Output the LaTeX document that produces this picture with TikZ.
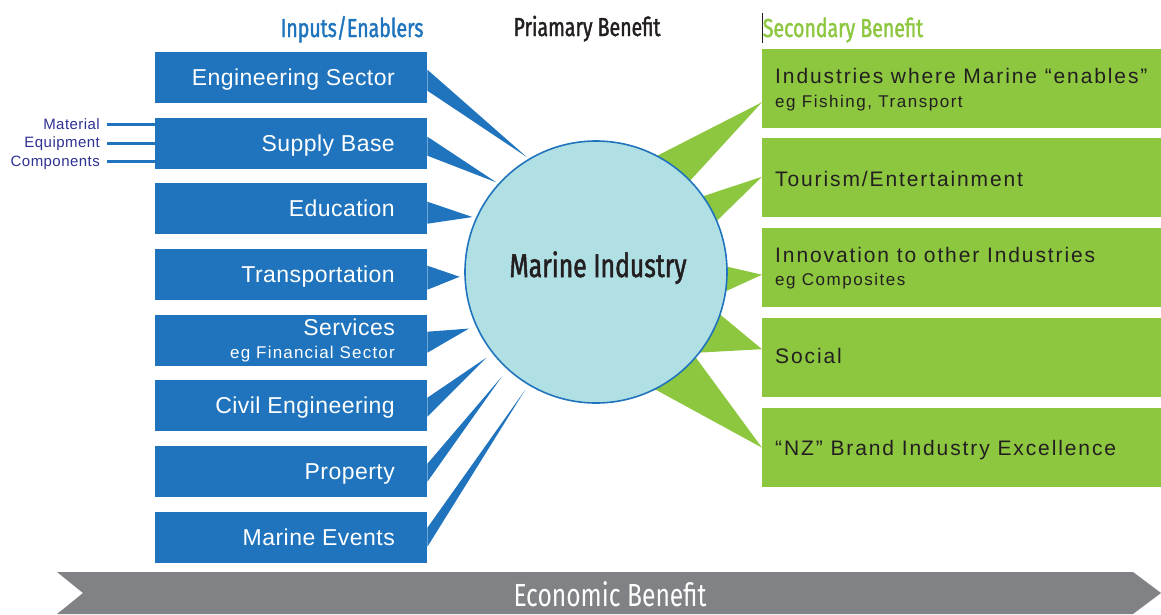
\documentclass[tikz,border=0pt]{standalone}
\usepackage{fontspec}
\setmainfont{Liberation Sans}
\newfontfamily\condfont[FakeStretch=0.75, FakeBold=1.5]{Fira Sans}
\newfontfamily\condlight[FakeStretch=0.77]{Fira Sans}
\newfontfamily\bluefont[LetterSpace=2]{Liberation Sans}
\newfontfamily\bluesub[LetterSpace=7]{Liberation Sans}
\newfontfamily\greenfont[LetterSpace=9]{Liberation Sans}
\newfontfamily\smallfont[LetterSpace=3]{Liberation Sans}
\usetikzlibrary{calc}
\definecolor{mblue}{RGB}{31,116,189}
\definecolor{mgreen}{RGB}{141,198,63}
\definecolor{mcirc}{RGB}{176,224,228}
\definecolor{mgray}{RGB}{128,130,133}
\definecolor{mnavy}{RGB}{46,49,146}
\definecolor{mtext}{RGB}{35,31,32}
\begin{document}
\begin{tikzpicture}[x=1pt,y=-1pt,
  inbox/.style={fill=mblue, minimum width=272pt, minimum height=51pt, inner sep=0pt, anchor=north west},
  outbox/.style={fill=mgreen, minimum width=400pt, minimum height=79pt, inner sep=0pt, anchor=north west},
  btext/.style={text=white, inner sep=0pt, anchor=base east, font=\bluefont\fontsize{23}{27}\selectfont},
  bsub/.style={text=white, inner sep=0pt, anchor=base east, font=\bluesub\fontsize{17}{20}\selectfont},
  gtext/.style={text=mtext, inner sep=0pt, anchor=base west, font=\greenfont\fontsize{21}{25}\selectfont},
  gsub/.style={text=mtext, inner sep=0pt, anchor=base west, font=\greenfont\fontsize{17}{20}\selectfont},
  head/.style={inner sep=0pt, anchor=base, font=\condfont\fontsize{26}{30}\selectfont},
  slabel/.style={text=mnavy, inner sep=0pt, anchor=base east, font=\smallfont\fontsize{15}{18}\selectfont},
  bwedge/.style={fill=mblue},
  gwedge/.style={fill=mgreen},
  feed/.style={draw=mblue, line width=3pt}
]
\useasboundingbox (0,0) rectangle (1161,614);

% headers
\node[head, text=mblue] (h1) at (352,37) {Inputs/Enablers};
\node[head, text=mtext] (h2) at (587,36) {Priamary Benefit};
\node[head, text=mgreen] (h3) at (843,37) {Secondary Benefit};
\coordinate (cur1) at (762,13);
\coordinate (cur2) at (762,43);
\draw[mtext, line width=0.8pt] (cur1) -- (cur2);

% input boxes
\node[inbox] (b1) at (155,52) {};
\node[inbox] (b2) at (155,118) {};
\node[inbox] (b3) at (155,183) {};
\node[inbox] (b4) at (155,249) {};
\node[inbox] (b5) at (155,315) {};
\node[inbox] (b6) at (155,380) {};
\node[inbox] (b7) at (155,446) {};
\node[inbox] (b8) at (155,512) {};

\node[btext] (t1) at (395,85.5) {Engineering Sector};
\node[btext] (t2) at (395,151.5) {Supply Base};
\node[btext] (t3) at (395,216.5) {Education};
\node[btext] (t4) at (395,282.5) {Transportation};
\node[btext] (t5) at (395,335) {Services};
\node[bsub] (t5b) at (395,358) {eg Financial Sector};
\node[btext] (t6) at (395,413.5) {Civil Engineering};
\node[btext] (t7) at (395,479.5) {Property};
\node[btext] (t8) at (395,545.5) {Marine Events};

% supply base feeds
\node[slabel] (s1) at (100,129) {Material};
\node[slabel] (s2) at (100,147) {Equipment};
\node[slabel] (s3) at (100,166) {Components};
\coordinate (f1) at (107,124);
\coordinate (f2) at (107,143);
\coordinate (f3) at (107,161.5);
\draw[feed] (f1) -- (f1 -| b2.west);
\draw[feed] (f2) -- (f2 -| b2.west);
\draw[feed] (f3) -- (f3 -| b2.west);

% output boxes
\node[outbox] (g1) at (762,49) {};
\node[outbox] (g2) at (762,138) {};
\node[outbox] (g3) at (762,228) {};
\node[outbox] (g4) at (762,318) {};
\node[outbox] (g5) at (762,408) {};

\node[gtext] (u1) at (775,83) {Industries where Marine “enables”};
\node[gsub] (u1b) at (775,107) {eg Fishing, Transport};
\node[gtext] (u2) at (775,186) {Tourism/Entertainment};
\node[gtext] (u3) at (775,262) {Innovation to other Industries};
\node[gsub] (u3b) at (775,285) {eg Composites};
\node[gtext] (u4) at (775,363) {Social};
\node[gtext] (u5) at (775,455) {“NZ” Brand Industry Excellence};

% centre circle reference
\node[circle, minimum size=262pt, inner sep=0pt] (mi) at (596,272) {};

% blue wedges
\fill[bwedge] ($(b1.east)+(0,-8)$) -- ($(mi.center)!1.02!(mi.121.5)$) -- ($(b1.east)+(0,13)$) -- cycle;
\fill[bwedge] ($(b2.east)+(0,-7)$) -- ($(mi.center)!1.02!(mi.138)$) -- ($(b2.east)+(0,12)$) -- cycle;
\fill[bwedge] ($(b3.east)+(0,-7)$) -- ($(mi.center)!1.03!(mi.156.4)$) -- ($(b3.east)+(0,15)$) -- cycle;
\fill[bwedge] ($(b4.east)+(0,-9)$) -- ($(mi.center)!1.04!(mi.182.5)$) -- ($(b4.east)+(0,15)$) -- cycle;
\fill[bwedge] ($(b5.east)+(0,-9)$) -- ($(mi.center)!1.06!(mi.204)$) -- ($(b5.east)+(0,12)$) -- cycle;
\fill[bwedge] ($(b6.east)+(0,-8)$) -- ($(mi.center)!1.06!(mi.218)$) -- ($(b6.east)+(0,11)$) -- cycle;
\fill[bwedge] ($(b7.east)+(0,-8)$) -- ($(mi.center)!1.07!(mi.228)$) -- ($(b7.east)+(0,10)$) -- cycle;
\fill[bwedge] ($(b8.east)+(0,-10)$) -- ($(mi.center)!1.05!(mi.239)$) -- ($(b8.east)+(0,9)$) -- cycle;

% green wedges
\fill[gwedge] ($(mi.center)!0.96!(mi.64)$) -- ($(g1.west)+(0,13.5)$) -- ($(mi.center)!0.96!(mi.44)$) -- cycle;
\fill[gwedge] ($(mi.center)!0.96!(mi.36)$) -- ($(g2.west)+(0,-1)$) -- ($(mi.center)!0.96!(mi.22)$) -- cycle;
\fill[gwedge] ($(mi.center)!0.96!(mi.3)$) -- ($(g3.west)+(0,7)$) -- ($(mi.center)!0.96!(mi.-10)$) -- cycle;
\fill[gwedge] ($(mi.center)!0.96!(mi.-18)$) -- ($(g4.west)+(0,-8.5)$) -- ($(mi.center)!0.96!(mi.-40)$) -- cycle;
\fill[gwedge] ($(mi.center)!0.96!(mi.-40)$) -- ($(g5.west)+(0,0)$) -- ($(mi.center)!0.96!(mi.-65)$) -- cycle;

% circle drawn over wedges
\node[circle, minimum size=262pt, inner sep=0pt, fill=mcirc, draw=mblue, line width=1.6pt] (mic) at (mi.center) {};
\node[inner sep=0pt, anchor=base, text=mtext, font=\condfont\fontsize{33}{38}\selectfont] (mit) at (598,277) {Marine Industry};

% economic benefit arrow
\fill[mgray] (57,572) -- (1133,572) -- (1161,593) -- (1133,614) -- (57,614) -- (83,593) -- cycle;
\node[inner sep=0pt, anchor=base, text=white, font=\condlight\fontsize{32}{38}\selectfont] (et) at (610,606) {Economic Benefit};
\end{tikzpicture}
\end{document}
